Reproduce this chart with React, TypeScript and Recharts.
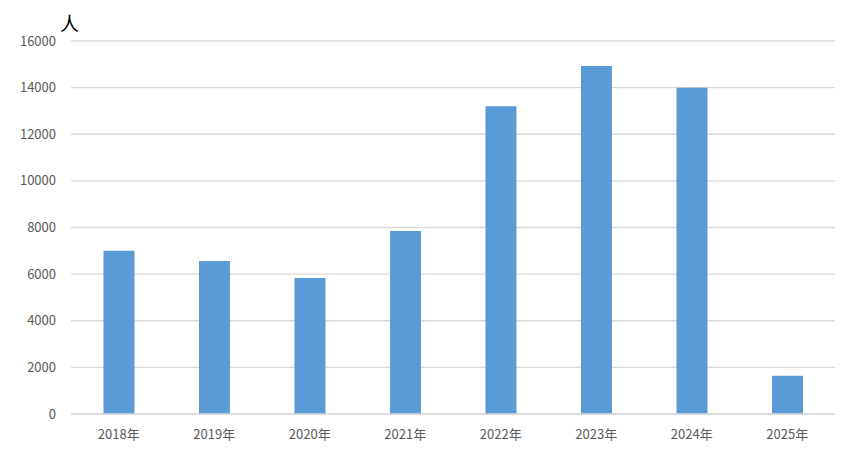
import { Bar, BarChart, CartesianGrid, XAxis, YAxis } from "recharts";

const years = ["2018年", "2019年", "2020年", "2021年", "2022年", "2023年", "2024年", "2025年"];
const people = [7000, 6560, 5830, 7850, 13200, 14930, 14000, 1640];
const yTicks = [0, 2000, 4000, 6000, 8000, 10000, 12000, 14000, 16000];

const data = years.map((year, i) => ({ year, people: people[i] }));

const font = "'Noto Sans CJK SC', 'Noto Sans', sans-serif";

export default function App() {
  return (
    <div style={{ position: "absolute", left: 0, top: 0, width: 850, height: 460, background: "#fff" }}>
      <div
        style={{
          position: "absolute",
          left: 60,
          top: 9,
          fontSize: 19,
          fontFamily: font,
          color: "#000"
        }}
      >
        人
      </div>
      <BarChart
        width={850}
        height={460}
        data={data}
        margin={{ top: 41, right: 15, bottom: 16, left: 0 }}
        barCategoryGap="34%"
      >
        <CartesianGrid vertical={false} stroke="#d9d9d9" strokeWidth={1.3} />
        <XAxis
          dataKey="year"
          height={30}
          tickLine={false}
          axisLine={{ stroke: "#d9d9d9", strokeWidth: 1.3 }}
          tick={{ fill: "#595959", fontSize: 13, fontFamily: font }}
          tickMargin={10}
        />
        <YAxis
          width={71}
          domain={[0, 16000]}
          ticks={yTicks}
          interval={0}
          tickLine={false}
          axisLine={false}
          tick={{ fill: "#595959", fontSize: 13, fontFamily: font }}
          tickMargin={9}
        />
        <Bar dataKey="people" fill="#5b9bd5" isAnimationActive={false} />
      </BarChart>
    </div>
  );
}
